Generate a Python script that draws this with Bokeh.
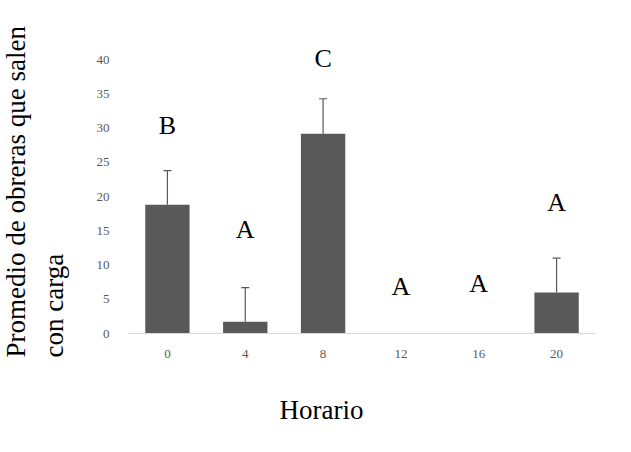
from bokeh.plotting import figure
from bokeh.models import ColumnDataSource, Range1d, Title
from bokeh.core.properties import value
from bokeh.embed import file_html
from bokeh.resources import INLINE

horas = ["0", "4", "8", "12", "16", "20"]
promedio = [18.8, 1.7, 29.2, 0.0, 0.0, 6.0]
error = [5.0, 5.0, 5.1, 0.0, 0.0, 5.0]
letras = ["B", "A", "C", "A", "A", "A"]
letra_y = [30.4, 15.2, 40.2, 6.85, 7.3, 19.1]

SERIF = "Liberation Serif"
GRIS = "#595959"

tiene_error = [e > 0 for e in error]
err_src = ColumnDataSource(data=dict(
    x=[h for h, t in zip(horas, tiene_error) if t],
    y0=[m for m, t in zip(promedio, tiene_error) if t],
    y1=[m + e for m, e, t in zip(promedio, error, tiene_error) if t],
))
bar_src = ColumnDataSource(data=dict(x=horas, top=promedio))
txt_src = ColumnDataSource(data=dict(x=horas, y=letra_y, text=letras))

p = figure(x_range=horas, y_range=Range1d(0, 43.1),
           frame_width=467, frame_height=295,
           min_border_left=128, min_border_right=36,
           min_border_top=38, min_border_bottom=119,
           output_backend="svg", toolbar_location=None,
           tools="")

p.vbar(x="x", top="top", width=0.57, source=bar_src,
       fill_color=GRIS, line_color=None)
p.segment(x0="x", y0="y0", x1="x", y1="y1", source=err_src,
          line_color=GRIS, line_width=1.2)
p.scatter(x="x", y="y1", source=err_src, marker="dash", size=8,
          line_color=GRIS, line_width=1.2)
p.text(x="x", y="y", text="text", source=txt_src,
       text_font=value(SERIF), text_font_size="26px",
       text_align="center", text_baseline="middle", text_color="black")

p.outline_line_color = None
p.grid.grid_line_color = None

p.yaxis.ticker = [0, 5, 10, 15, 20, 25, 30, 35, 40]
p.yaxis.axis_line_color = None
p.xaxis.axis_line_color = "#d9d9d9"
for ax in (p.xaxis, p.yaxis):
    ax.major_tick_line_color = None
    ax.minor_tick_line_color = None
    ax.major_label_text_font = SERIF
    ax.major_label_text_font_size = "13px"
    ax.major_label_text_color = GRIS
p.yaxis.major_label_standoff = 13
p.xaxis.major_label_standoff = 10

# hueco entre los números y el título del eje y
p.yaxis.axis_label = "\u00a0"
p.yaxis.axis_label_text_font_size = "12px"
p.yaxis.axis_label_standoff = 6

p.add_layout(Title(text="Promedio de obreras que salen\ncon carga",
                   align="left", vertical_align="top", offset=-24,
                   standoff=0, text_font=SERIF, text_font_size="27px",
                   text_line_height=1.27,
                   text_font_style="normal", text_color="black"), "left")

# el título del eje x va algo a la izquierda del centro del área
p.xaxis.axis_label = "Horario" + "\u00a0" * 12
p.xaxis.axis_label_text_font = SERIF
p.xaxis.axis_label_text_font_size = "27px"
p.xaxis.axis_label_text_font_style = "normal"
p.xaxis.axis_label_text_color = "black"
p.xaxis.axis_label_standoff = 34

open("out.html", "w").write(file_html(p, INLINE))
